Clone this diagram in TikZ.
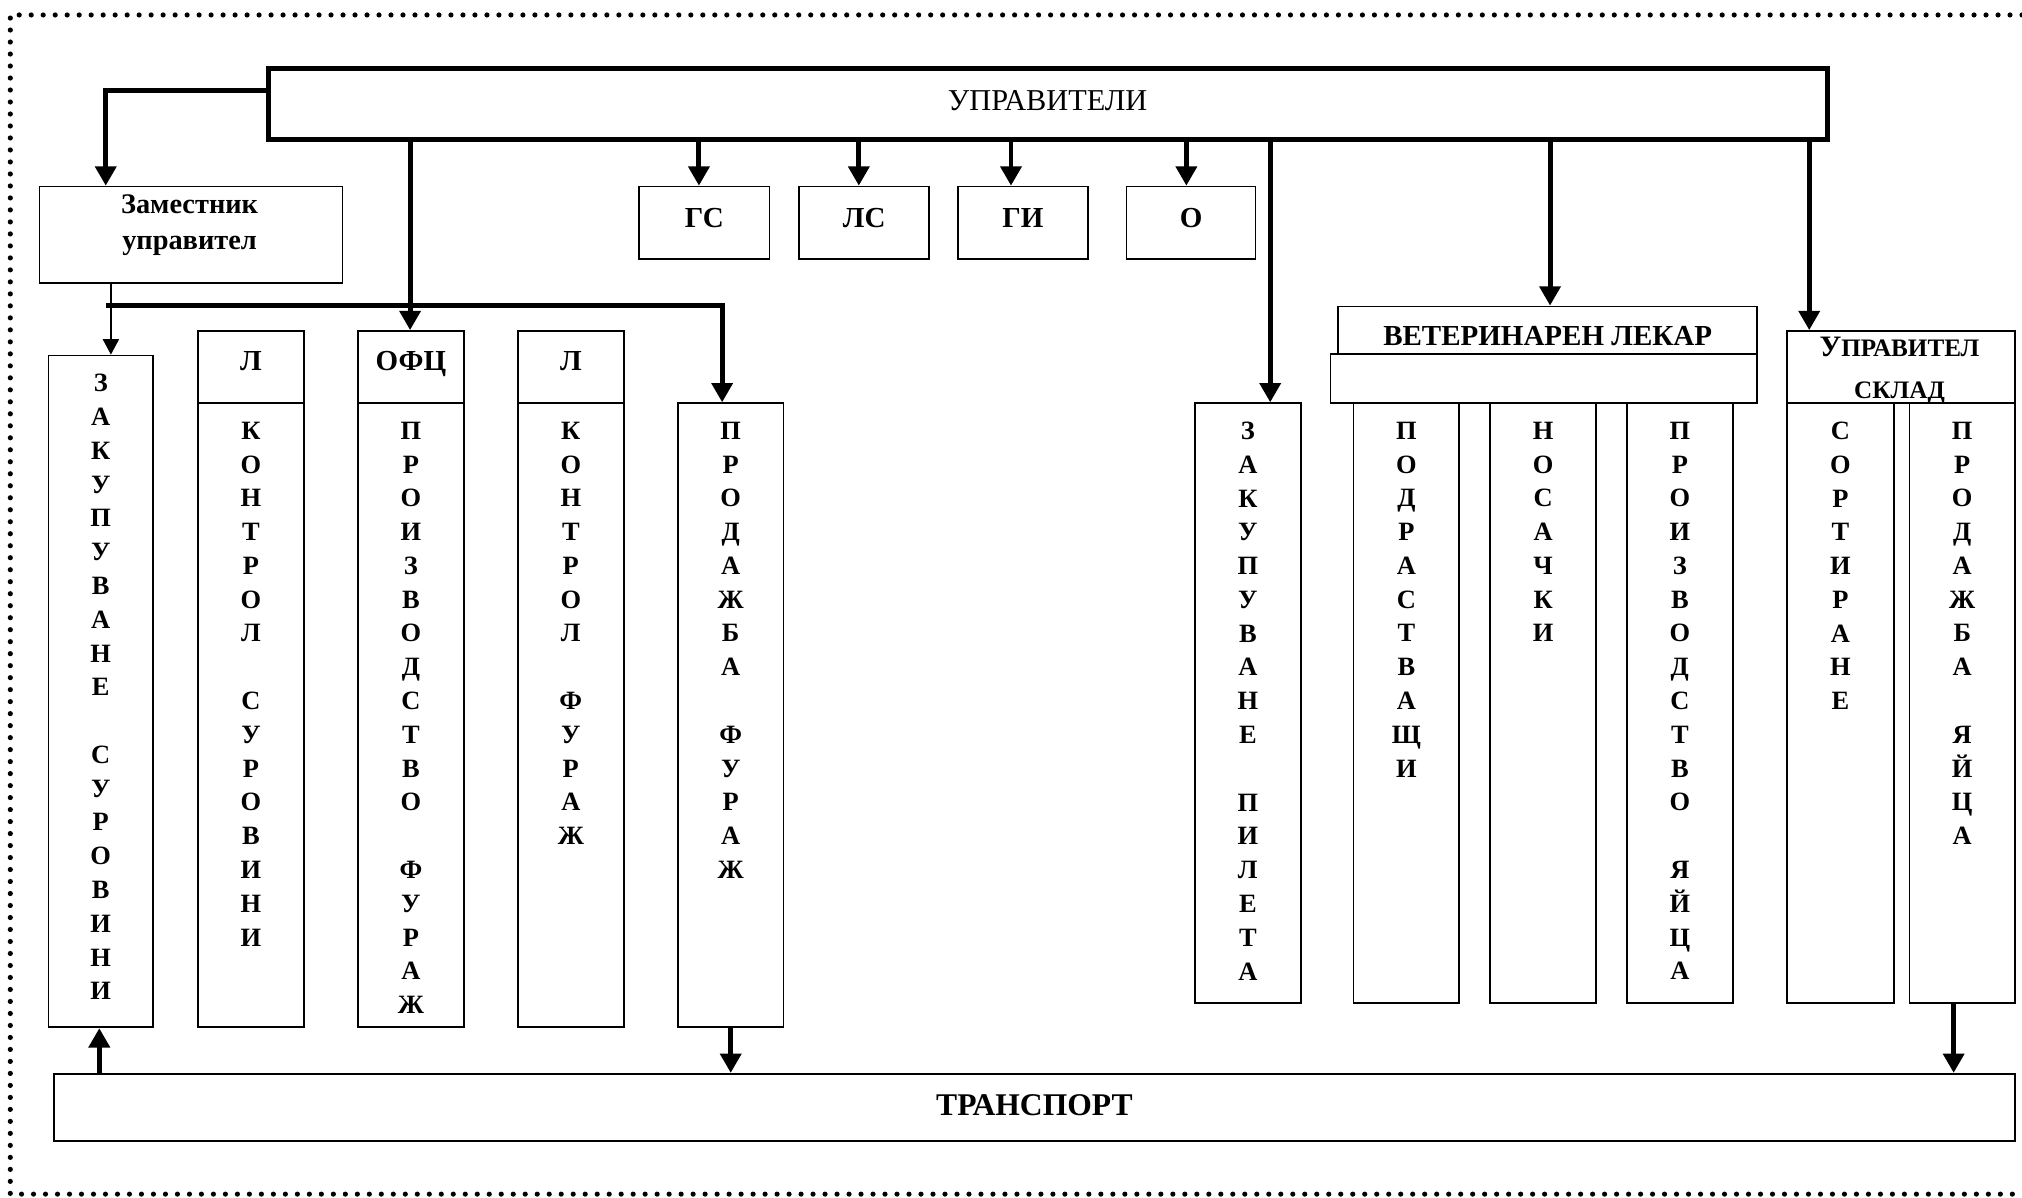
\documentclass[tikz,border=0pt]{standalone}
\usepackage{fontspec}
\setmainfont{Liberation Serif}
\usetikzlibrary{arrows.meta}

\tikzset{
  box/.style={draw, line width=1.3pt, inner sep=0pt, anchor=north west,
    font=\bfseries\fontsize{22.5}{27}\selectfont},
  colbox/.style={draw, line width=1.3pt, inner sep=0pt, anchor=north west, minimum width=82pt},
  letters/.style={anchor=north, inner sep=0pt, align=center,
    font=\bfseries\fontsize{20.5}{26.2}\selectfont},
  thickarrow/.style={line width=3.8pt, -{Triangle[width=16pt,length=15pt]}},
  thinarrow/.style={line width=1.3pt, -{Triangle[width=12.5pt,length=12pt]}},
}

\begin{document}
\begin{tikzpicture}[x=1pt,y=-1pt]
  \useasboundingbox (0,0) rectangle (1568,929);

  % dotted frame
  \draw[line width=4pt, line cap=round, dash pattern=on 0pt off 9.3pt]
    (1568,11.6) -- (8,11.6) -- (8,926) -- (1568,926);

  % top
  \node (mgr) at (206,51)[draw, line width=3.8pt, inner sep=0pt, anchor=north west,
    minimum width=1209pt, text height=32.5pt, text depth=22.5pt,
    font=\fontsize{23.5}{28}\selectfont]{УПРАВИТЕЛИ};

  \node (dep) at (30,144)[box, minimum width=235pt, minimum height=75pt]{};
  \node (deptext) at (147,151)[anchor=north, inner sep=0pt, align=center,
    font=\bfseries\fontsize{22}{27.5}\selectfont]{Заместник\\управител};

  \node (gs) at (495,144)[box, minimum width=101pt, text height=31.5pt, text depth=24.5pt]{ГС};
  \node (ls) at (619,144)[box, minimum width=101pt, text height=31.5pt, text depth=24.5pt]{ЛС};
  \node (gi) at (742,144)[box, minimum width=101pt, text height=31.5pt, text depth=24.5pt]{ГИ};
  \node (o) at (873,144)[box, minimum width=100pt, text height=31.5pt, text depth=24.5pt]{О};

  % left group
  \node (h2) at (153,256)[box, minimum width=82pt, text height=31pt, text depth=25pt]{Л};
  \node (h3) at (277,256)[box, minimum width=82pt, text height=31pt, text depth=25pt]{ОФЦ};
  \node (h4) at (401,256)[box, minimum width=82pt, text height=31pt, text depth=25pt]{Л};

  \node (c1) at (37,275)[colbox, minimum width=81pt, minimum height=521pt]{};
  \node (c2) at (153,312)[colbox, minimum height=484pt]{};
  \node (c3) at (277,312)[colbox, minimum height=484pt]{};
  \node (c4) at (401,312)[colbox, minimum height=484pt]{};
  \node (c5) at (525,312)[colbox, minimum height=484pt]{};

  \node (t1) at ([yshift=-15pt]c1.north)[letters]{З\\А\\К\\У\\П\\У\\В\\А\\Н\\Е\\[26.2pt]С\\У\\Р\\О\\В\\И\\Н\\И};
  \node (t2) at ([yshift=-15pt]c2.north)[letters]{К\\О\\Н\\Т\\Р\\О\\Л\\[26.2pt]С\\У\\Р\\О\\В\\И\\Н\\И};
  \node (t3) at ([yshift=-15pt]c3.north)[letters]{П\\Р\\О\\И\\З\\В\\О\\Д\\С\\Т\\В\\О\\[26.2pt]Ф\\У\\Р\\А\\Ж};
  \node (t4) at ([yshift=-15pt]c4.north)[letters]{К\\О\\Н\\Т\\Р\\О\\Л\\[26.2pt]Ф\\У\\Р\\А\\Ж};
  \node (t5) at ([yshift=-15pt]c5.north)[letters]{П\\Р\\О\\Д\\А\\Ж\\Б\\А\\[26.2pt]Ф\\У\\Р\\А\\Ж};

  % right group
  \node (vet) at (1037,237)[box, minimum width=325pt, text height=30.5pt, text depth=6.5pt]{ВЕТЕРИНАРЕН ЛЕКАР};
  \node (vetbase) at (1031,274)[box, minimum width=331pt, minimum height=38pt]{};
  \node (sk) at (1385,256)[box, minimum width=177pt, minimum height=56pt]{};
  \node (sktext) at (1473,261)[anchor=north, inner sep=0pt, align=center,
    font=\bfseries\fontsize{19.5}{33}\selectfont]{{\fontsize{23}{33}\selectfont У}ПРАВИТЕЛ\\СКЛАД};

  \node (c6) at (926,312)[colbox, minimum height=465pt]{};
  \node (c7) at (1049,312)[colbox, minimum height=465pt]{};
  \node (c8) at (1155,312)[colbox, minimum height=465pt]{};
  \node (c9) at (1261,312)[colbox, minimum height=465pt]{};
  \node (c10) at (1385,312)[colbox, minimum width=83pt, minimum height=465pt]{};
  \node (c11) at (1480,312)[colbox, minimum height=465pt]{};

  \node (t6) at ([yshift=-15pt]c6.north)[letters]{З\\А\\К\\У\\П\\У\\В\\А\\Н\\Е\\[26.2pt]П\\И\\Л\\Е\\Т\\А};
  \node (t7) at ([yshift=-15pt]c7.north)[letters]{П\\О\\Д\\Р\\А\\С\\Т\\В\\А\\Щ\\И};
  \node (t8) at ([yshift=-15pt]c8.north)[letters]{Н\\О\\С\\А\\Ч\\К\\И};
  \node (t9) at ([yshift=-15pt]c9.north)[letters]{П\\Р\\О\\И\\З\\В\\О\\Д\\С\\Т\\В\\О\\[26.2pt]Я\\Й\\Ц\\А};
  \node (t10) at ([yshift=-15pt]c10.north)[letters]{С\\О\\Р\\Т\\И\\Р\\А\\Н\\Е};
  \node (t11) at ([yshift=-15pt]c11.north)[letters]{П\\Р\\О\\Д\\А\\Ж\\Б\\А\\[26.2pt]Я\\Й\\Ц\\А};

  % bottom
  \node (tr) at (41,832)[box, minimum width=1521pt, text height=32pt, text depth=20pt,
    font=\bfseries\fontsize{24.5}{29}\selectfont]{ТРАНСПОРТ};

  % connectors
  \draw[thickarrow] (mgr.west |- 0,70) -| (82,0 |- dep.north);
  \foreach \x/\n in {542/gs,666/ls,784/gi,920/o}
    \draw[thickarrow] (\x,0 |- mgr.south) -- (\x,0 |- \n.north);
  \draw[thickarrow] (318,0 |- mgr.south) -- (318,0 |- h3.north);
  \draw[thickarrow] (985,0 |- mgr.south) -- (985,0 |- c6.north);
  \draw[thickarrow] (1202,0 |- mgr.south) -- (1202,0 |- vet.north);
  \draw[thickarrow] (1403,0 |- mgr.south) -- (1403,0 |- sk.north);

  \coordinate (busstart) at (82,237);
  \draw[thickarrow] (busstart) -- (560,237) -- (560,0 |- c5.north);
  \draw[thinarrow] (86,0 |- dep.south) -- (86,0 |- c1.north);

  \draw[thickarrow] (77,0 |- tr.north) -- (77,0 |- c1.south);
  \draw[thickarrow] (c5.south) -- (c5.south |- tr.north);
  \draw[thickarrow] (1515,0 |- c11.south) -- (1515,0 |- tr.north);
\end{tikzpicture}
\end{document}
